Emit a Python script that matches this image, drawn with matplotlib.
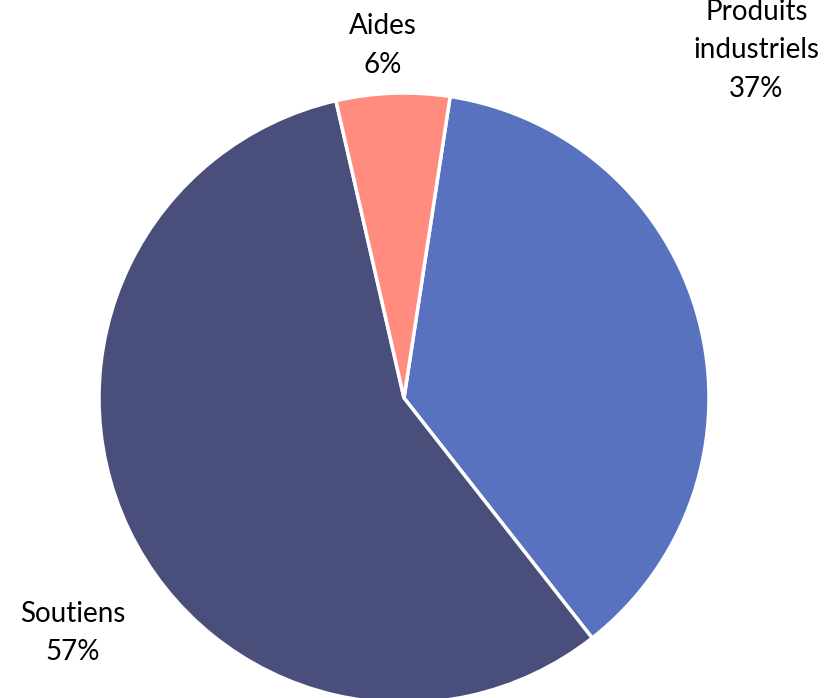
import matplotlib.pyplot as plt

# pie data, in drawing order (clockwise from just right of 12 o'clock)
labels = ['Produits\nindustriels', 'Soutiens', 'Aides']
shares = [37, 57, 6]
colors = ['#5872BF', '#4A4E7A', '#FF8C7E']
# label anchor points (axes data units, pie radius = 1)
label_x = [1.155, -1.085, -0.07]
label_y = [1.14, -0.77, 1.155]

fig = plt.figure(figsize=(8.26, 6.98), dpi=100)
W, H = 826, 698
cx, cy, r = 404, 398, 305
ax = fig.add_axes([(cx - r) / W, (H - cy - r) / H, 2 * r / W, 2 * r / H])

wedges, _ = ax.pie(shares, colors=colors, startangle=81.3, counterclock=False,
                   radius=1, wedgeprops=dict(edgecolor='white', linewidth=2.5))
ax.set_xlim(-1, 1)
ax.set_ylim(-1, 1)
ax.set_axis_off()

for lab, val, x, y in zip(labels, shares, label_x, label_y):
    ax.text(x, y, f'{lab}\n{val}%', ha='center', va='center',
            fontsize=20, family=['Lato', 'DejaVu Sans'],
            linespacing=1.6, clip_on=False)

fig.savefig('out.png', dpi=100)
